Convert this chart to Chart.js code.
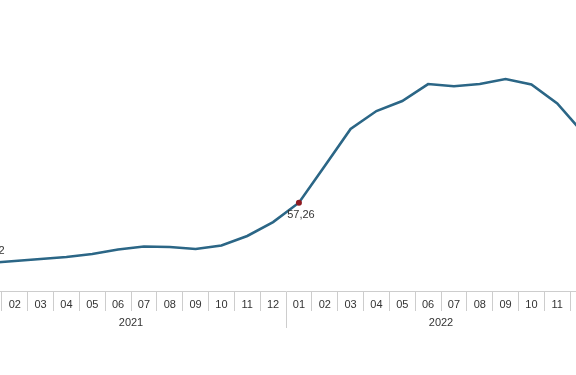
<!DOCTYPE html>
<html>
<head>
<meta charset="utf-8">
<script src="https://cdn.jsdelivr.net/npm/chart.js@4.4.0/dist/chart.umd.min.js"></script>
<style>
    html, body { margin: 0; padding: 0; background: #fff; overflow: hidden; }
    #wrap { position: absolute; left: -24px; top: 0; width: 620px; height: 375px; }
</style>
</head>
<body>
<div id="wrap"><canvas id="lineChart" width="620" height="375"></canvas></div>
<script>
// months 2021/01 .. 2022/12
const months = ['01', '02', '03', '04', '05', '06', '07', '08', '09', '10', '11', '12',
    '01', '02', '03', '04', '05', '06', '07', '08', '09', '10', '11', '12'];
const years = ['2021', '2022'];
const values = [18.12, 19.46, 20.75, 22.05, 24.0, 26.9, 28.9, 28.5, 27.2, 29.5, 35.7, 44.7,
    57.26, 81.1, 105.1, 116.7, 123.2, 134.2, 132.8, 134.2, 137.5, 134.0, 121.7, 102.5];
// which points get a value label and where (above / below)
const labelled = {0: 'above', 12: 'below'};

const lineColor = '#2b6686';
const gridColor = '#cdcdcd';
const textColor = '#333';

// draws the value next to the marked points
const valueLabels = {
    id: 'valueLabels',
    afterDatasetsDraw(chart) {
        const ctx = chart.ctx;
        const meta = chart.getDatasetMeta(0);
        ctx.save();
        ctx.font = '11px "Liberation Sans", Arial, sans-serif';
        ctx.fillStyle = textColor;
        ctx.textAlign = 'center';
        ctx.textBaseline = 'middle';
        Object.keys(labelled).forEach(function (k) {
            const pt = meta.data[k];
            const txt = values[k].toFixed(2).replace('.', ',');
            const dy = labelled[k] === 'above' ? -12 : 12;
            ctx.fillText(txt, pt.x + 2, pt.y + dy);
        });
        ctx.restore();
    }
};

const ctx = document.getElementById('lineChart');
const myChart = new Chart(ctx, {
    type: 'line',
    data: {
        labels: months,
        datasets: [{
            data: values,
            borderColor: lineColor,
            borderWidth: 2.6,
            tension: 0,
            fill: false,
            pointRadius: (c) => c.dataIndex === 12 ? 3 : 0,
            pointBackgroundColor: '#8e1b22',
            pointBorderColor: '#8e1b22',
            pointBorderWidth: 0
        }]
    },
    options: {
        responsive: false,
        animation: false,
        events: [],
        layout: {padding: {top: 20, bottom: 34, left: 0, right: 0}},
        plugins: {
            legend: {display: false},
            tooltip: {enabled: false}
        },
        scales: {
            y: {
                display: false,
                min: 0,
                max: 175.75
            },
            x: {
                position: 'bottom',
                offset: true,
                afterFit: (s) => { s.height = 20; },
                grid: {
                    offset: true,
                    drawOnChartArea: false,
                    drawTicks: true,
                    tickLength: 20,
                    color: gridColor
                },
                border: {display: true, color: gridColor, width: 1},
                ticks: {
                    padding: -13,
                    color: textColor,
                    maxRotation: 0,
                    autoSkip: false,
                    font: {family: '"Liberation Sans", Arial, sans-serif', size: 11}
                }
            },
            x2: {
                type: 'category',
                position: 'bottom',
                labels: years,
                offset: true,
                afterFit: (s) => { s.height = 30; },
                grid: {
                    offset: true,
                    drawOnChartArea: false,
                    drawTicks: true,
                    tickLength: 17,
                    color: gridColor
                },
                border: {display: false},
                ticks: {
                    padding: -12,
                    color: textColor,
                    maxRotation: 0,
                    font: {family: '"Liberation Sans", Arial, sans-serif', size: 11}
                }
            }
        }
    },
    plugins: [valueLabels]
});
</script>
</body>
</html>
